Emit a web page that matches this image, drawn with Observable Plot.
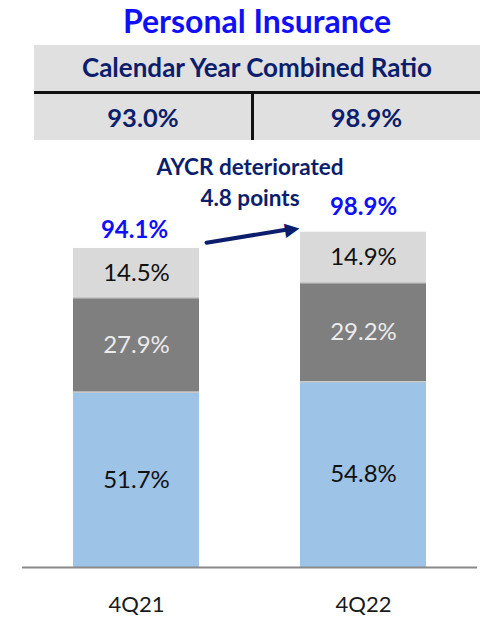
<!DOCTYPE html>
<html>
<head>
<meta charset="utf-8">
<script src="https://cdn.jsdelivr.net/npm/d3@7"></script>
<script src="https://cdn.jsdelivr.net/npm/@observablehq/plot@0.6"></script>
<style>
  html, body { margin: 0; padding: 0; background: #fff; }
  #wrap { position: relative; width: 487px; height: 617px; overflow: hidden; font-family: Lato, "Noto Sans", sans-serif; }
  #title { position: absolute; left: 34px; top: 0; width: 446px; height: 44px; line-height: 41px; text-align: center;
           font-weight: 700; font-size: 32px; color: #1010f8; }
  #table { position: absolute; left: 34px; top: 45px; width: 446px; height: 95px; background: #e0e0e0; color: #0c1e6b; font-weight: 700; }
  #thead { position: absolute; left: 0; top: 0; width: 446px; height: 46px; line-height: 44px; text-align: center; font-size: 26px; }
  #hline { position: absolute; left: 0; top: 46px; width: 446px; height: 3px; background: #111; }
  .cell { position: absolute; top: 49px; height: 46px; line-height: 46px; text-align: center; font-size: 25.5px; }
  #vline { position: absolute; left: 217px; top: 49px; width: 2.5px; height: 46px; background: #111; }
  #chart { position: absolute; left: 0; top: 150px; }
</style>
</head>
<body>
<div id="wrap">
  <div id="title"></div>
  <div id="table">
    <div id="thead"></div>
    <div id="hline"></div>
    <div class="cell" id="c0" style="left:0;width:218px"></div>
    <div id="vline"></div>
    <div class="cell" id="c1" style="left:219px;width:227px"></div>
  </div>
  <div id="chart"></div>
</div>
<script>
// ---- data ----
const titleText = "Personal Insurance";
const tableHeader = "Calendar Year Combined Ratio";
const calendarYearCR = ["93.0%", "98.9%"];
const categories = ["4Q21", "4Q22"];
const segmentNames = ["loss", "expense", "other"];
const lossValues = [51.7, 54.8];
const expenseValues = [27.9, 29.2];
const otherValues = [14.5, 14.9];
const totals = [94.1, 98.9];
const annotationText = "AYCR deteriorated\n4.8 points";
const arrowFrom = {x: "4Q21", y: 92.4};
const arrowTo = {x: "4Q22", y: 103.4};

// ---- header ----
document.getElementById("title").textContent = titleText;
document.getElementById("thead").textContent = tableHeader;
document.getElementById("c0").textContent = calendarYearCR[0];
document.getElementById("c1").textContent = calendarYearCR[1];

// ---- chart ----
const segFill = {loss: "#9dc3e6", expense: "#7f7f7f", other: "#d9d9d9"};
const segText = {loss: "#111111", expense: "#ebebeb", other: "#111111"};
const seriesValues = {loss: lossValues, expense: expenseValues, other: otherValues};

const rows = categories.flatMap((cat, i) =>
  segmentNames.map(seg => ({cat, seg, value: seriesValues[seg][i]})));
const boundaries = categories.flatMap((cat, i) => [
  {cat, y: lossValues[i]},
  {cat, y: lossValues[i] + expenseValues[i]}
]);
const totalRows = categories.map((cat, i) => ({cat, total: totals[i]}));

const font = "Lato, 'Noto Sans', sans-serif";
const navy = "#0c1e6b";

const chart = Plot.plot({
  width: 487,
  height: 467,
  marginTop: 0,
  marginBottom: 50,
  marginLeft: 22,
  marginRight: 10,
  style: {fontFamily: font, fontSize: "22px", color: "#1a1a1a", background: "transparent", overflow: "visible"},
  x: {domain: categories, paddingInner: 0.446, paddingOuter: 0.223, tickSize: 0, tickPadding: 29, label: null},
  y: {domain: [0, 123], axis: null},
  color: {type: "identity"},
  marks: [
    Plot.barY(rows, {x: "cat", y: "value", z: "seg", fill: d => segFill[d.seg]}),
    Plot.tickY(boundaries, {x: "cat", y: "y", stroke: "#c8c8c8", strokeWidth: 1.5}),
    Plot.text(rows, Plot.stackY({x: "cat", y: "value", z: "seg",
      text: d => d.value.toFixed(1) + "%", fill: d => segText[d.seg],
      fontSize: 24, fontFamily: font})),
    Plot.text(totalRows, {filter: d => d.cat === categories[0], x: "cat", y: "total",
      text: d => d.total.toFixed(1) + "%", dy: -17.7, dx: -2, fill: "#1010f8",
      fontWeight: "bold", fontSize: 24, fontFamily: font}),
    Plot.text(totalRows, {filter: d => d.cat === categories[1], x: "cat", y: "total",
      text: d => d.total.toFixed(1) + "%", dy: -25.3, fill: "#1010f8",
      fontWeight: "bold", fontSize: 24, fontFamily: font}),
    Plot.text([annotationText], {text: d => d, frameAnchor: "top", lineAnchor: "top", dy: 2.5,
      lineHeight: 1.38, fill: navy, fontWeight: "bold", fontSize: 22.5, fontFamily: font}),
    Plot.arrow([{from: arrowFrom, to: arrowTo}], {
      x1: d => d.from.x, y1: d => d.from.y, x2: d => d.to.x, y2: d => d.to.y,
      insetStart: 71, insetEnd: 72.4, stroke: navy, strokeWidth: 4, headLength: 0}),
    Plot.text([arrowTo], {x: "x", y: "y", text: () => "\u25B6", rotate: -9.3, dx: -71.5, dy: 11.7,
      fill: navy, fontSize: 19, fontFamily: "DejaVu Sans"}),
    Plot.ruleY([0], {stroke: "#8a8a8a", strokeWidth: 2})
  ]
});
document.getElementById("chart").appendChild(chart);
</script>
</body>
</html>
